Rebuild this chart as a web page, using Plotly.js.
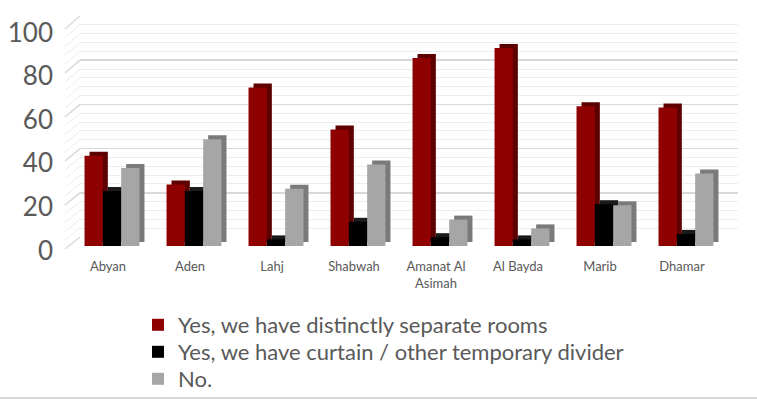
<!DOCTYPE html>
<html>
<head>
<meta charset="utf-8">
<script src="https://cdn.plot.ly/plotly-3.0.1.min.js"></script>
<style>html,body{margin:0;padding:0;background:#fff;}#chart{width:757px;height:406px;}</style>
</head>
<body>
<div id="chart"></div>
<script>
// ---- data ----
const categories = ['Abyan', 'Aden', 'Lahj', 'Shabwah', 'Amanat Al<br>Asimah', 'Al Bayda', 'Marib', 'Dhamar'];
const seriesNames = ['Yes, we have distinctly separate rooms', 'Yes, we have curtain / other temporary divider', 'No.'];
const separateRooms = [41, 28, 72, 53, 85.5, 90, 63.5, 63];
const curtainDivider = [25, 25, 3, 11, 4, 3, 19, 5.5];
const noSeparation = [35.5, 48.5, 26, 37, 12, 8, 18.5, 33];
const yTicks = [0, 20, 40, 60, 80, 100];

// ---- layout geometry (pixels) ----
const W = 757, H = 406;
const mL = 60, mR = 15, mT = 10, mB = 150;
const PW = W - mL - mR, PH = H - mT - mB;
const catW = 82;          // px per category
const frontLeft = 71;     // px of category -0.5 edge
const unitPx = 2.2;       // px per value unit (front)
const frontZero = 246;    // px of value 0 (front)
const depthDX = 5, depthDY = 4;
const labelDX = -4;       // category labels sit slightly left
const labelZero = 250.5, labelUnit = 2.18; // y tick label scale

const xa = -0.5 - (frontLeft - mL) / catW;
const xb = xa + PW / catW;
const yc = -(mT + PH - frontZero) / unitPx;
const yd = yc + PH / unitPx;
const lc = -(mT + PH - labelZero) / labelUnit;
const ld = lc + PH / labelUnit;

const faceColors = ['#8f0000', '#000000', '#a6a6a6'];
const sideColors = ['#5c0000', '#1a1a1a', '#7a7a7a'];
const values = [separateRooms, curtainDivider, noSeparation];
const legendIds = ['legend', 'legend2', 'legend3'];

const traces = [];
// depth (side/top faces)
values.forEach((v, k) => {
  traces.push({
    type: 'bar', x: categories, y: v, xaxis: 'x2', yaxis: 'y2',
    marker: {color: sideColors[k]}, showlegend: false, hoverinfo: 'skip'
  });
});
// front faces
values.forEach((v, k) => {
  traces.push({
    type: 'bar', name: seriesNames[k], x: categories, y: v, xaxis: 'x3', yaxis: 'y3',
    marker: {color: faceColors[k]}, legend: legendIds[k]
  });
});
// back wall carrier (invisible)
traces.push({type: 'scatter', x: [0], y: [null], xaxis: 'x', yaxis: 'y', mode: 'markers', showlegend: false, hoverinfo: 'skip'});
// label axes carrier (invisible)
traces.push({type: 'scatter', x: categories, y: categories.map(() => null), xaxis: 'x4', yaxis: 'y4', mode: 'markers', showlegend: false, hoverinfo: 'skip'});

// back wall geometry
const backL = 80, backR = 738, backZero = 237, backTop = 16;
const backUnit = (backZero - backTop) / 100;

// left wall diagonals
const shapes = [];
const px2x = p => (p - mL) / PW;
const px2y = p => (mT + PH - p) / PH;
for (let v = 0; v <= 100; v += 4) {
  const major = v % 20 === 0;
  shapes.push({
    type: 'line', xref: 'paper', yref: 'paper', layer: 'below',
    x0: px2x(backL), y0: px2y(backZero - v * backUnit),
    x1: px2x(65), y1: px2y(frontZero + 3 - v * unitPx),
    line: {color: major ? '#d9d9d9' : '#ededed', width: major ? 1.6 : 1}
  });
}
// bottom border line
shapes.push({type: 'line', xref: 'paper', yref: 'paper', x0: px2x(0), x1: px2x(W), y0: px2y(398), y1: px2y(398),
  line: {color: '#d9d9d9', width: 2}});

const font = 'Lato, "Open Sans", sans-serif';
const legendCenters = [325, 352, 379];
function makeLegend(cy) {
  return {
    orientation: 'v', x: px2x(138), y: px2y(cy), xanchor: 'left', yanchor: 'middle',
    font: {size: 22, color: '#595959', family: font}, bgcolor: 'rgba(0,0,0,0)', borderwidth: 0
  };
}
const hidden = {showgrid: false, zeroline: false, showticklabels: false, showline: false, ticks: '', fixedrange: true};
const layout = {
  width: W, height: H,
  margin: {l: mL, r: mR, t: mT, b: mB, autoexpand: false},
  paper_bgcolor: '#ffffff', plot_bgcolor: 'rgba(0,0,0,0)',
  font: {family: font, color: '#595959'},
  barmode: 'group', bargap: 0.33, bargroupgap: 0,
  showlegend: true,
  legend: makeLegend(legendCenters[0]),
  legend2: makeLegend(legendCenters[1]),
  legend3: makeLegend(legendCenters[2]),
  xaxis: Object.assign({domain: [px2x(backL), px2x(backR)], range: [0, 1]}, hidden),
  yaxis: Object.assign({}, hidden, {domain: [px2y(backZero), px2y(backTop)], range: [0, 100], anchor: 'x',
    showgrid: true, gridcolor: '#d9d9d9', gridwidth: 1.6, dtick: 20, tick0: 0,
    minor: {dtick: 4, showgrid: true, gridcolor: '#ededed', gridwidth: 1}}),
  xaxis2: Object.assign({domain: [0, 1], anchor: 'y2', type: 'category', range: [xa - depthDX / catW, xb - depthDX / catW]}, hidden),
  yaxis2: Object.assign({domain: [0, 1], anchor: 'x2', range: [yc - depthDY / unitPx, yd - depthDY / unitPx]}, hidden),
  xaxis3: Object.assign({overlaying: 'x2', anchor: 'y3', type: 'category', range: [xa, xb]}, hidden),
  yaxis3: Object.assign({overlaying: 'y2', anchor: 'x3', range: [yc, yd]}, hidden),
  xaxis4: {overlaying: 'x2', anchor: 'y4', type: 'category', range: [xa - labelDX / catW, xb - labelDX / catW],
    showgrid: false, zeroline: false, showline: false, ticks: '', fixedrange: true, ticklabelstandoff: 1,
    tickfont: {size: 13, color: '#595959', family: font}},
  yaxis4: {overlaying: 'y2', anchor: 'x4', side: 'left', range: [lc, ld],
    tickmode: 'array', tickvals: yTicks, ticklabelstandoff: 6,
    showgrid: false, zeroline: false, showline: false, ticks: '', fixedrange: true,
    tickfont: {size: 26, color: '#595959', family: font}},
  shapes: shapes
};

Plotly.newPlot('chart', traces, layout, {displayModeBar: false, staticPlot: true});
</script>
</body>
</html>
